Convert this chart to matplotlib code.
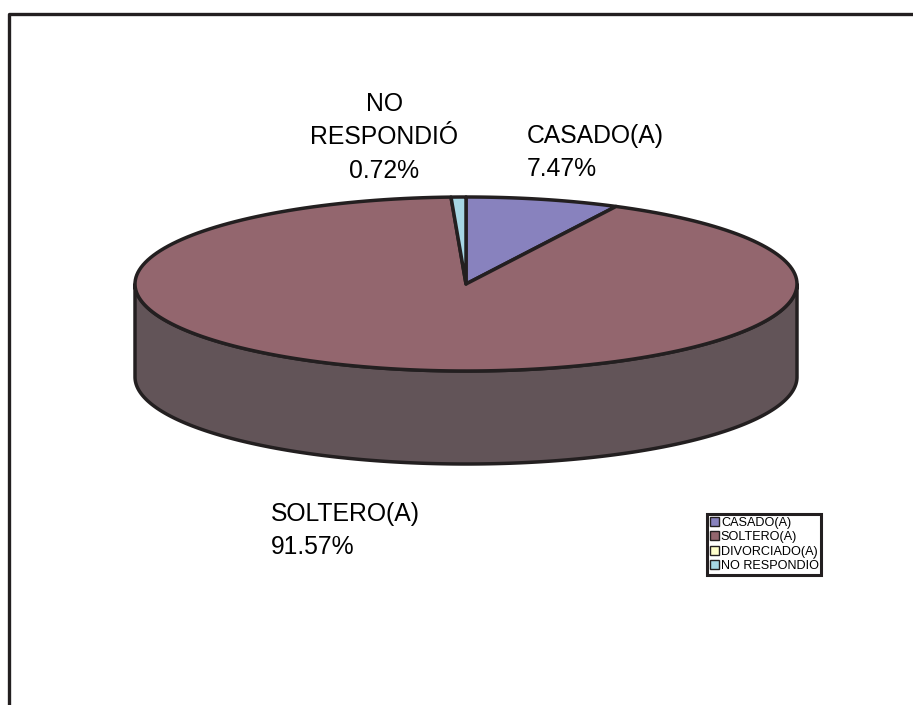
import numpy as np
import matplotlib
matplotlib.use("Agg")
import matplotlib.pyplot as plt
from matplotlib.patches import Polygon, Patch

plt.rcParams['font.family'] = ['Liberation Sans', 'DejaVu Sans']

# data
categories = ['CASADO(A)', 'SOLTERO(A)', 'DIVORCIADO(A)', 'NO RESPONDIÓ']
percentages = [7.47, 91.57, 0.0, 0.72]
top_colors = ['#8882BE', '#93666E', '#FFFFCC', '#A6D6E4']
side_colors = ['#5E5A84', '#625458', '#B3B38F', '#74969F']
edge = '#231F20'

# pie geometry (pixel space, y down)
cx, cy, rx, ry, depth = 466, 284, 331, 87, 93


def rim(t0, t1, dy=0.0, n=200):
    t = np.radians(np.linspace(t0, t1, n))
    return np.column_stack([cx + rx * np.sin(t), cy - ry * np.cos(t) + dy])


fig = plt.figure(figsize=(9.13, 7.05), dpi=100)
ax = fig.add_axes([0, 0, 1, 1])
ax.set_xlim(0, 913)
ax.set_ylim(705, 0)
ax.axis('off')

# outer frame of the chart area (cut off at right and bottom)
ax.plot([8.5, 8.5, 913], [705, 13.5, 13.5], color=edge, lw=2.4, solid_capstyle='butt')

total = sum(percentages)
bounds = np.concatenate([[0], np.cumsum(percentages) / total * 360])

# side walls first (front half only: 90..270 deg clockwise from top)
for i, v in enumerate(percentages):
    if v <= 0:
        continue
    a0, a1 = max(bounds[i], 90), min(bounds[i + 1], 270)
    if a1 <= a0:
        continue
    pts = np.vstack([rim(a0, a1), rim(a0, a1, depth)[::-1]])
    ax.add_patch(Polygon(pts, closed=True, facecolor=side_colors[i],
                         edgecolor=edge, lw=2.5, joinstyle='round'))

# top face wedges
for i, v in enumerate(percentages):
    if v <= 0:
        continue
    pts = np.vstack([[cx, cy], rim(bounds[i], bounds[i + 1])])
    ax.add_patch(Polygon(pts, closed=True, facecolor=top_colors[i],
                         edgecolor=edge, lw=2.5, joinstyle='round'))

# data labels (baseline of last line)
fs = 17.8
ls = 1.5
ax.text(527, 176, '%s\n%.2f%%' % (categories[0], percentages[0]), fontsize=fs,
        ha='left', va='baseline', linespacing=ls, color='black')
ax.text(384, 178, 'NO\nRESPONDIÓ\n%.2f%%' % percentages[3], fontsize=fs,
        ha='center', va='baseline', linespacing=ls, color='black')
ax.text(271, 554, '%s\n%.2f%%' % (categories[1], percentages[1]), fontsize=fs,
        ha='left', va='baseline', linespacing=ls, color='black')

# legend
handles = [Patch(facecolor=c, edgecolor=edge, lw=1.0) for c in top_colors]
leg = ax.legend(handles, categories, loc='upper left',
                bbox_to_anchor=(707 / 913, 1 - 514 / 705),
                fontsize=9.1, frameon=True, fancybox=False, framealpha=1,
                handlelength=0.75, handleheight=0.75, handletextpad=0.15,
                borderpad=0.2, labelspacing=0.2, borderaxespad=0)
leg.get_frame().set_edgecolor(edge)
leg.get_frame().set_linewidth(2.2)

fig.savefig('out.png', dpi=100)
